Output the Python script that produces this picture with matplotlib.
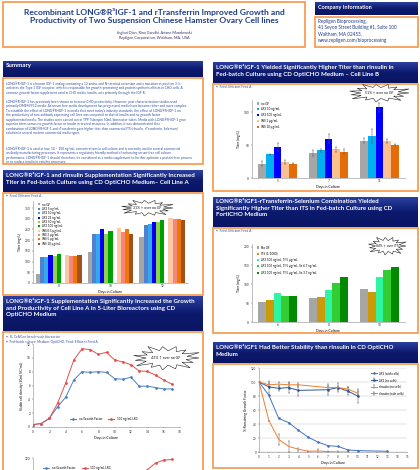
import numpy as np
import matplotlib
matplotlib.use('Agg')
import matplotlib.pyplot as plt
from matplotlib.patches import Rectangle, Polygon
from matplotlib.colors import LinearSegmentedColormap
import textwrap

plt.rcParams['font.family'] = ['Lato', 'DejaVu Sans']

# ---------------- DATA ----------------
# Chart A: Cell line A titer (mg/L), OptiCHO
daysA = ['8', '10', '12']
labelsA = ['no GF', 'LR3 5 ng/mL', 'LR3 10 ng/mL', 'LR3 25 ng/mL', 'LR3 50 ng/mL',
           'LR3 100 ng/mL', 'INS 0.5 µg/mL', 'INS 2 µg/mL', 'INS 5 µg/mL', 'INS 10 µg/mL']
A_noGF = [42, 146, 216]
A_lr3_5 = [120, 227, 270]
A_lr3_10 = [122, 231, 274]
A_lr3_25 = [130, 250, 287]
A_lr3_50 = [126, 231, 284]
A_lr3_100 = [134, 245, 294]
A_ins_05 = [131, 259, 304]
A_ins_2 = [128, 239, 301]
A_ins_5 = [128, 254, 301]
A_ins_10 = [129, 230, 296]

# Chart VCD: 5 L bioreactor viable cell density (10e6 VC/mL)
vcd_days = [0, 1, 2, 3, 4, 5, 6, 7, 8, 9, 10, 11, 12, 13, 14, 15, 16, 17]
vcd_noGF = [0.35, 0.5, 1.25, 2.9, 4.3, 6.8, 8.0, 7.9, 8.0, 7.9, 7.0, 6.9, 7.2, 5.9, 5.9, 5.7, 5.5, 5.5]
vcd_lr3 = [0.35, 0.5, 1.25, 3.4, 6.35, 9.7, 11.3, 11.2, 10.5, 10.8, 9.7, 9.4, 9.0, 8.1, 8.05, 7.5, 6.8, 6.2]

# Bioreactor titer (only the visible top part)
tit_days = [14, 15, 16, 17]
tit_lr3 = [104, 113, 117, 118]

# Chart B: Cell line B titer (mg/L)
daysB = ['5', '7', '11']
labelsB = ['no GF', 'LR3 10 ng/mL', 'LR3 100 ng/mL', 'INS 1 µg/mL', 'INS 10 µg/mL']
B_noGF = [22, 38, 57]
B_lr3_10 = [36, 42, 64]
B_lr3_100 = [47, 60, 108]
B_ins_1 = [24, 44, 57]
B_ins_10 = [22, 40, 51]
B_noGF_err = [4, 5, 4]
B_lr3_10_err = [1, 2, 10]
B_lr3_100_err = [6, 7, 7]
B_ins_1_err = [3, 4, 3]
B_ins_10_err = [1, 4, 1]

# Chart C: FortiCHO titer (mg/L)
daysC = ['6', '8', '10']
labelsC = ['No GF', 'ITS (1/1000)', 'LR3 100 ng/mL, Tf 5 µg/mL',
           'LR3 100 ng/mL, Tf 5 µg/mL, Se 6.7 ng/mL', 'LR3 100 ng/mL, Tf 5 µg/mL, Se 3.7 ng/mL']
C_noGF = [52, 65, 88]
C_its = [59, 66, 79]
C_lr3_tf = [76, 84, 120]
C_lr3_tf_se67 = [70, 104, 139]
C_lr3_tf_se37 = [68, 120, 145]

# Chart D: stability (% remaining growth factor)
D_days_nc = [0, 1, 2, 3, 4, 7, 8, 9, 10]
D_lr3_nc = [100, 93, 91, 92, 88, 89, 92, 87, 80]
D_lr3_nc_err = [0, 8, 4, 8, 8, 8, 6, 6, 10]
D_ins_nc = [100, 96, 97, 96, 96, 92, 92, 90, 84]
D_ins_nc_err = [0, 3, 3, 3, 3, 3, 3, 3, 3]
D_days_lr3_wc = [0, 1, 2, 3, 4, 5, 6, 7, 8, 9, 10, 13]
D_lr3_wc = [100, 81, 48, 42, 31, 21, 14, 9, 8, 3, 2, 1]
D_days_ins_wc = [0, 1, 2, 3, 4, 5, 6, 7, 8, 9]
D_ins_wc = [100, 45, 18, 8, 4, 1, 1.5, 0.5, 0, 0]
D_ins_wc_err = [0, 0, 8, 8, 2, 1, 3, 1, 1, 1]

# ---------------- STYLE ----------------
W, H = 420, 470
ORANGE = '#F79646'
NAVY = '#1F3C88'
TXT = '#2F4F9F'
fig = plt.figure(figsize=(4.2, 4.7), dpi=100)
fig.patch.set_facecolor('white')

def X(px): return px / W
def Y(py): return 1 - py / H

def add_ax(l, t, r, b):
    return fig.add_axes([X(l), Y(b), (r - l) / W, (b - t) / H])

def box(l, t, r, b, lw=1.2):
    fig.add_artist(Rectangle((X(l), Y(b)), (r - l) / W, (b - t) / H, transform=fig.transFigure,
                             fill=False, edgecolor=ORANGE, lw=lw, zorder=5))

hdr_cmap = LinearSegmentedColormap.from_list('h', ['#2B40A0', '#0C1A6E', '#0A1562'])

def header(l, t, r, b, text, fs=4.45):
    hax = add_ax(l, t, r, b)
    hax.imshow(np.linspace(0, 1, 60).reshape(-1, 1), aspect='auto', cmap=hdr_cmap,
               extent=[0, 1, 0, 1])
    hax.axis('off')
    fig.text(X(l + 3), Y(t + 2.5), text, color='white', fontsize=fs, fontweight='bold',
             va='top', ha='left', linespacing=1.3)

def star(cx, cy, rx, ry, text, fs=2.5):
    n = 15
    ang = np.linspace(0, 2 * np.pi, 2 * n, endpoint=False)
    mult = [1.0, 0.62, 0.9, 0.6, 1.1, 0.65, 0.95, 0.6]
    rad = np.array([mult[i % len(mult)] for i in range(2 * n)])
    px = cx + rx * rad * np.cos(ang)
    py = cy + ry * rad * np.sin(ang)
    pts = np.column_stack([X(px), Y(py)])
    fig.add_artist(Polygon(pts, closed=True, transform=fig.transFigure, facecolor='white',
                           edgecolor='#222222', lw=0.4, zorder=6))
    fig.text(X(cx), Y(cy), text, fontsize=fs, ha='center', va='center', color='#111111',
             zorder=7)

def style(ax, fs=2.3):
    for s in ['top', 'right']:
        ax.spines[s].set_visible(False)
    for s in ['left', 'bottom']:
        ax.spines[s].set_color('#8c8c8c')
        ax.spines[s].set_linewidth(0.4)
    ax.tick_params(labelsize=fs, length=1, width=0.3, pad=1, colors='#333333')
    ax.set_facecolor('none')

# ---------------- TITLE / COMPANY ----------------
box(3, 2, 305, 47)
fig.text(X(154), Y(8.5), 'Recombinant LONG®R³IGF-1 and rTransferrin Improved Growth and\n'
         'Productivity of Two Suspension Chinese Hamster Ovary Cell lines',
         fontsize=6.1, fontweight='bold', color=NAVY, ha='center', va='top', linespacing=1.1)
fig.text(X(154), Y(31), 'Jinghui Qian, Rina Gandhi, Ariane Mandewski\nRepligen Corporation, Waltham, MA, USA',
         fontsize=2.8, color='#333366', ha='center', va='top', linespacing=1.2)

header(315, 2, 418, 15, 'Company Information', fs=4.0)
box(315, 17, 418, 47)
for i, line in enumerate(['Repligen Bioprocessing,', '41 Seyon Street Building #1, Suite 100',
                          'Waltham, MA 02453,', 'www.repligen.com/bioprocessing']):
    fig.text(X(318), Y(21 + i * 6.6), line, fontsize=3.3, color=NAVY, va='center', ha='left')

# ---------------- SUMMARY ----------------
header(3, 61, 203, 77, 'Summary', fs=4.4)
box(3, 78, 203, 164)
para1 = ('LONG®R³IGF-1 is a human IGF-1 analog containing a 13 amino acid N-terminal extension and a mutation at position 3. It '
         'activates the Type 1 IGF receptor, which is responsible for growth-promoting and protein synthesis effects in CHO cells. A '
         'common growth factor supplement used in CHO media, insulin, acts primarily through the IGF-R.')
para2 = ('LONG®R³IGF-1 has previously been shown to increase CHO productivity. However, past characterization studies used '
         'primarily DMEM/F12 media. As serum free media development has progressed, media have become richer and more '
         'complex. To establish the effect of LONG®R³IGF-1 in media that meet today\'s industry standards, the effect of LONG®R³IGF-'
         '1 on the productivity of two antibody expressing cell lines was compared to that of insulin and no growth factor '
         'supplemented media. The studies were carried out in TPP Tubespin 50mL bioreactor tubes. Media with LONG®R³IGF-1 '
         'gave superior titers versus no growth factor or insulin in several instances. In addition, it was demonstrated that '
         'combination of LONG®R³IGF-1 and rTransferrin gave higher titer than commercial ITS (rInsulin, rTransferrin, Selenium) '
         'solution in several modern commercial media types.')
para3 = ('LONG®R³IGF-1 is used at low, 10 – 100 ng/mL, concentrations in cell culture and is currently used in several commercial '
         'antibody manufacturing processes. It represents a regulatory friendly method of enhancing serum-free cell culture '
         'performance. LONG®R³IGF-1 should, therefore, be considered as a media supplement to further optimize a protein-free '
         'process or to replace insulin in existing processes.')
for para, y0, wrapw in [(para1, 84, 124), (para2, 102, 118), (para3, 149, 124)]:
    for i, line in enumerate(textwrap.wrap(para, wrapw)):
        fig.text(X(6), Y(y0 + i * 4.4), line, fontsize=2.3, color=TXT, va='center', ha='left')

# ---------------- CHART A ----------------
header(3, 170, 203, 192, 'LONG®R³IGF-1 and rInsulin Supplementation Significantly Increased\n'
       'Titer in Fed-batch Culture using CD OptiCHO Medium– Cell Line A')
box(3, 193, 203, 295)
fig.text(X(6), Y(196), '•  Feed: Efficient Feed A', fontsize=2.3, color=TXT, va='center')
axA = add_ax(33, 201, 188, 283)
style(axA)
seriesA = [A_noGF, A_lr3_5, A_lr3_10, A_lr3_25, A_lr3_50, A_lr3_100, A_ins_05, A_ins_2, A_ins_5, A_ins_10]
colorsA = ['#A6A6A6', '#4F81D0', '#33A9F0', '#0000EE', '#92D050', '#00A000',
           '#FBC9A5', '#F4877A', '#F07800', '#A0521E']
slotsA = [0, 1, 2, 3, 4, 5, 7, 8, 9, 10]
wA = 0.08
xA = np.arange(len(daysA))
for vals, c, s, lab in zip(seriesA, colorsA, slotsA, labelsA):
    axA.bar(xA + (s - 5) * wA, vals, wA, color=c, label=lab, linewidth=0)
axA.set_xlim(-0.5, 2.5)
axA.set_ylim(0, 383)
axA.set_yticks(range(0, 351, 50))
axA.set_xticks(xA)
axA.set_xticklabels(daysA)
axA.tick_params(axis='x', length=0)
axA.set_ylabel('Titer (mg/L)', fontsize=2.5, labelpad=2)
axA.set_xlabel('Days in Culture', fontsize=2.5, labelpad=1.5)
axA.legend(loc='upper left', bbox_to_anchor=(0.02, 1.0), fontsize=2.2, frameon=False,
           handlelength=0.8, handleheight=0.6, labelspacing=0.12, borderpad=0, handletextpad=0.5)
star(147, 208, 26, 8, '31% ↑ over no GF')

# ---------------- CHART VCD ----------------
header(3, 296, 203, 331, 'LONG®R³IGF-1 Supplementation Significantly Increased the Growth\n'
       'and Productivity of Cell Line A in 5-Liter Bioreactors using CD\nOptiCHO Medium')
box(3, 332, 203, 475)
fig.text(X(6), Y(337), '•  5L CelliGen bench-scale bioreactor', fontsize=2.3, color=TXT, va='center')
fig.text(X(6), Y(342), '•  Fed-batch culture: Medium: OptiCHO; Feed: Efficient Feed A', fontsize=2.3,
         color=TXT, va='center')
axV = add_ax(33, 344, 180, 427)
style(axV)
axV.plot(vcd_days, vcd_noGF, color='#4F81BD', lw=0.7, marker='D', ms=0.9, label='no Growth Factor')
axV.plot(vcd_days, vcd_lr3, color='#E0504D', lw=0.7, marker='s', ms=0.9, label='100 ng/mL LR3')
axV.set_xlim(0, 18)
axV.set_ylim(0, 12)
axV.set_xticks(range(0, 19, 2))
axV.set_yticks(range(0, 13, 2))
axV.set_ylabel('Viable cell density (10e6 VC/mL)', fontsize=2.4, labelpad=2)
axV.set_xlabel('Days in Culture', fontsize=2.5, labelpad=1.5)
axV.legend(loc='lower center', bbox_to_anchor=(0.48, 0.05), ncol=2, fontsize=2.2, frameon=False,
           handlelength=2, columnspacing=2, borderpad=0)
star(166, 358, 33, 12, '43% ↑ over no GF', fs=2.6)

axT = add_ax(33, 458, 180, 545)
style(axT)
axT.plot([], [], color='#4F81BD', lw=0.7, marker='D', ms=0.9, label='no Growth Factor')
axT.plot(tit_days, tit_lr3, color='#E0504D', lw=0.7, marker='s', ms=0.9, label='100 ng/mL LR3')
axT.set_xlim(0, 18)
axT.set_ylim(0, 120)
axT.set_yticks([120])
axT.set_xticks([])
axT.legend(loc='upper left', bbox_to_anchor=(0.06, 0.93), ncol=2, fontsize=2.2, frameon=False,
           handlelength=2, columnspacing=2, borderpad=0)

# ---------------- CHART B ----------------
header(213, 62, 418, 83, 'LONG®R³IGF-1 Yielded Significantly Higher Titer than rInsulin in\n'
       'Fed-batch Culture using CD OptiCHO Medium – Cell Line B')
box(213, 84, 418, 191)
fig.text(X(216), Y(87), '•  Feed: Efficient Feed A', fontsize=2.3, color=TXT, va='center')
axB = add_ax(252, 100, 405, 178)
style(axB)
seriesB = [B_noGF, B_lr3_10, B_lr3_100, B_ins_1, B_ins_10]
errB = [B_noGF_err, B_lr3_10_err, B_lr3_100_err, B_ins_1_err, B_ins_10_err]
colorsB = ['#A6A6A6', '#00B0F0', '#0000FF', '#FAC090', '#E36C09']
wB = 0.15
xB = np.arange(len(daysB))
for i, (vals, e, c, lab) in enumerate(zip(seriesB, errB, colorsB, labelsB)):
    axB.bar(xB + (i - 2) * wB, vals, wB, color=c, label=lab, linewidth=0,
            yerr=e, error_kw=dict(ecolor='#555555', elinewidth=0.35, capsize=0.8, capthick=0.35))
axB.set_xlim(-0.5, 2.5)
axB.set_ylim(0, 119)
axB.set_yticks([0, 50, 100])
axB.set_xticks(xB)
axB.set_xticklabels(daysB)
axB.tick_params(axis='x', length=0)
axB.set_ylabel('Titer (mg/L)', fontsize=2.5, labelpad=2)
axB.set_xlabel('Days in Culture', fontsize=2.5, labelpad=1.5)
axB.legend(loc='upper left', bbox_to_anchor=(0.02, 1.0), fontsize=2.2, frameon=False,
           handlelength=0.8, handleheight=0.7, labelspacing=0.6, borderpad=0, handletextpad=0.5)
star(379, 93, 30, 9, '51% ↑ over no GF')

# ---------------- CHART C ----------------
header(213, 197, 418, 227, 'LONG®R³IGF1-rTransferrin-Selenium Combination Yielded\n'
       'Significantly Higher Titer than ITS in Fed-batch Culture using CD\nFortiCHO Medium')
box(213, 228, 418, 333)
fig.text(X(216), Y(231), '•  Feed: Efficient Feed A', fontsize=2.3, color=TXT, va='center')
axC = add_ax(252, 244, 405, 322)
style(axC)
seriesC = [C_noGF, C_its, C_lr3_tf, C_lr3_tf_se67, C_lr3_tf_se37]
colorsC = ['#A6A6A6', '#CC9A06', '#2EF5A0', '#33CC33', '#008A00']
xC = np.arange(len(daysC))
for i, (vals, c, lab) in enumerate(zip(seriesC, colorsC, labelsC)):
    axC.bar(xC + (i - 2) * wB, vals, wB, color=c, label=lab, linewidth=0)
axC.set_xlim(-0.5, 2.5)
axC.set_ylim(0, 207)
axC.set_yticks([0, 50, 100, 150, 200])
axC.set_xticks(xC)
axC.set_xticklabels(daysC)
axC.tick_params(axis='x', length=0)
axC.set_ylabel('Titer (mg/L)', fontsize=2.5, labelpad=2)
axC.set_xlabel('Days in Culture', fontsize=2.5, labelpad=1.5)
axC.legend(loc='upper left', bbox_to_anchor=(0.02, 1.0), fontsize=2.2, frameon=False,
           handlelength=0.8, handleheight=0.7, labelspacing=0.75, borderpad=0, handletextpad=0.5)
star(387, 246, 19, 9, '84% ↑ over ITS', fs=2.3)

# ---------------- CHART D ----------------
header(213, 342, 418, 363, 'LONG®R³IGF1 Had Better Stability than rInsulin in CD OptiCHO\nMedium')
box(213, 364, 418, 468)
axD = add_ax(259, 368, 407, 452)
style(axD, fs=2.2)
axD.yaxis.grid(True, color='#bfbfbf', lw=0.3)
axD.set_axisbelow(True)
ekw = dict(ecolor='#555555', elinewidth=0.35, capsize=0.8, capthick=0.35)
axD.errorbar(D_days_nc, D_lr3_nc, yerr=D_lr3_nc_err, color='#2F5597', lw=0.7, marker='D', ms=0.8,
             label='LR3 (no cells)', **ekw)
axD.errorbar(D_days_nc, D_ins_nc, yerr=D_ins_nc_err, color='#ED7D31', lw=0.7,
             label='rInsulin (no cells)', **ekw)
axD.plot(D_days_lr3_wc, D_lr3_wc, color='#4472C4', lw=0.7, marker='D', ms=0.8, label='LR3 (with cells)')
axD.errorbar(D_days_ins_wc, D_ins_wc, yerr=D_ins_wc_err, color='#ED7D31', lw=0.7,
             label='rInsulin (with cells)', **ekw)
axD.set_xlim(0, 15)
axD.set_ylim(0, 120)
axD.set_xticks(range(0, 16))
axD.set_yticks(range(0, 121, 20))
axD.set_ylabel('% Remaining Growth Factor', fontsize=2.4, labelpad=2)
axD.set_xlabel('Days in Culture', fontsize=2.5, labelpad=1.5)
axD.legend(loc='upper right', bbox_to_anchor=(0.99, 0.98), fontsize=2.2, frameon=False,
           handlelength=2, labelspacing=0.9, borderpad=0)

fig.savefig('out.png', dpi=100, facecolor='white')
